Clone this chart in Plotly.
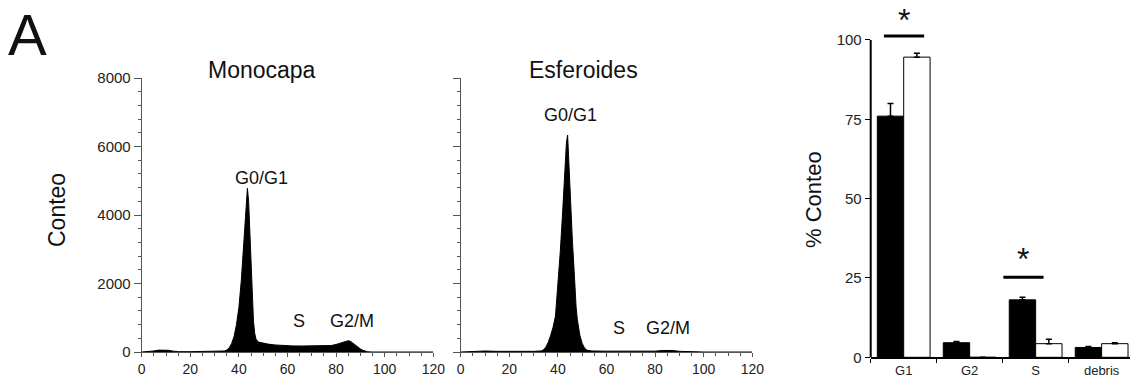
import plotly.graph_objects as go

# ---------------- data ----------------
# DNA content histogram, Monocapa
mono_x = [0, 3, 5, 7, 9, 11, 13, 15, 20, 25, 30, 33, 34, 35, 36, 37, 38, 39, 40, 41, 42,
          42.5, 43, 43.5, 44, 44.5, 45, 45.5, 46, 46.5, 47,
          48, 50, 52, 55, 58, 62, 66, 70, 75, 78, 80, 82, 84, 85, 86, 87, 88, 89, 90, 91, 92, 93, 95, 100, 120]
mono_y = [0, 5, 30, 55, 60, 50, 25, 10, 10, 10, 15, 20, 30, 60, 120, 250, 450, 800, 1300, 2100, 3200,
          3900, 4500, 4780, 4400, 3500, 2300, 1400, 900, 550, 380,
          290, 250, 230, 205, 190, 178, 175, 175, 178, 190, 220, 270, 325, 330, 310, 250, 190, 140, 90, 50, 20, 5, 0, 0, 0]

# DNA content histogram, Esferoides
esf_x = [0, 5, 8, 10, 15, 20, 25, 30, 33, 34, 35, 36, 37, 38, 39, 40, 41, 42,
         42.5, 43, 43.5, 44, 44.5, 45, 45.5, 46, 46.5, 47, 47.5, 48, 48.5, 49,
         50, 51, 52, 54, 60, 70, 80, 83, 85, 87, 90, 95, 100, 120]
esf_y = [0, 10, 30, 30, 20, 15, 15, 20, 30, 60, 140, 280, 480, 720, 1050, 1900, 2950, 4150,
         4750, 5600, 6100, 6335, 5500, 4350, 3650, 3200, 2600, 1850, 1300, 950, 700, 500,
         250, 110, 50, 30, 25, 20, 25, 45, 55, 45, 20, 5, 0, 0]

hist_xticks = [0, 20, 40, 60, 80, 100, 120]
hist_yticks = [0, 2000, 4000, 6000, 8000]

# phase labels on histograms
mono_labels = ["G0/G1", "S", "G2/M"]
mono_label_x = [49.5, 64.7, 86.4]
mono_label_y = [5080, 914, 914]
esf_labels = ["G0/G1", "S", "G2/M"]
esf_label_x = [45.0, 65.1, 85.3]
esf_label_y = [6920, 700, 700]

# bar chart: % Conteo
categories = ["G1", "G2", "S", "debris"]
mono_pct = [76.0, 4.6, 18.1, 3.1]
mono_err = [4.0, 0.4, 0.8, 0.3]
esf_pct = [94.6, 0.0, 4.3, 4.3]
esf_err = [1.2, 0.0, 1.4, 0.3]
bar_yticks = [0, 25, 50, 75, 100]

# significance marks (star = glyph centre)
sig_x0 = [-0.30, 1.51]
sig_x1 = [0.31, 2.12]
sig_y = [101.3, 25.2]
star_x = [0.0, 1.81]
star_y = [107.5, 32.2]

# ---------------- figure ----------------
FONT = "Liberation Sans, Arial, sans-serif"
W, H = 1130, 387


def px_x(p):
    return p / W


def px_y(p):
    return (H - p) / H


fig = go.Figure()

fig.add_trace(go.Scatter(x=mono_x, y=mono_y, mode="lines", fill="tozeroy",
                         line=dict(color="black", width=1), fillcolor="black",
                         xaxis="x", yaxis="y", showlegend=False, hoverinfo="skip"))
fig.add_trace(go.Scatter(x=esf_x, y=esf_y, mode="lines", fill="tozeroy",
                         line=dict(color="black", width=1), fillcolor="black",
                         xaxis="x2", yaxis="y2", showlegend=False, hoverinfo="skip"))

fig.add_trace(go.Bar(x=categories, y=mono_pct, xaxis="x3", yaxis="y3",
                     marker=dict(color="black", line=dict(color="black", width=1)),
                     error_y=dict(type="data", array=mono_err, arrayminus=[0] * 4, symmetric=False,
                                  color="black", thickness=1.5, width=3),
                     showlegend=False))
fig.add_trace(go.Bar(x=categories, y=esf_pct, xaxis="x3", yaxis="y3",
                     marker=dict(color="white", line=dict(color="black", width=1)),
                     error_y=dict(type="data", array=esf_err, arrayminus=[0] * 4, symmetric=False,
                                  color="black", thickness=1.5, width=3),
                     showlegend=False))

# significance lines
for x0, x1, y in zip(sig_x0, sig_x1, sig_y):
    fig.add_shape(type="line", xref="x3", yref="y3", x0=x0, x1=x1, y0=y, y1=y,
                  line=dict(color="black", width=3))

BAR_LEFT = 870.7
BAR_BASE = 357.3
BAR_TOP = 40.0
BAR_YMAX = 112.5
bar_px_per_unit = (BAR_BASE - BAR_TOP) / 100.0
bar_dom_top = max(BAR_BASE - BAR_YMAX * bar_px_per_unit, 0.0)

# y-axis line of bar chart drawn only up to 100
fig.add_shape(type="line", xref="paper", yref="paper",
              x0=px_x(BAR_LEFT), x1=px_x(BAR_LEFT), y0=px_y(BAR_BASE), y1=px_y(BAR_TOP),
              line=dict(color="black", width=2))

hist_y_dom = [px_y(352), px_y(78)]
axis_col = "#555"
tick_font = dict(family=FONT, size=14, color="#222")

common_hx = dict(range=[0, 120], tickvals=hist_xticks, ticks="outside", ticklen=4,
                 tickcolor=axis_col, showline=True, linecolor=axis_col, linewidth=1,
                 showgrid=False, zeroline=False, tickfont=tick_font, automargin=False,
                 minor=dict(dtick=5, ticks="outside", ticklen=3, tickcolor=axis_col))
common_hy = dict(range=[0, 8000], tickvals=hist_yticks, ticks="outside", ticklen=7,
                 tickcolor=axis_col, showline=True, linecolor=axis_col, linewidth=1,
                 showgrid=False, zeroline=False, automargin=False,
                 tickfont=dict(family=FONT, size=15, color="#222"),
                 minor=dict(dtick=400, ticks="outside", ticklen=3, tickcolor=axis_col))

fig.update_layout(
    template="none",
    width=W, height=H,
    margin=dict(l=0, r=0, t=0, b=0, pad=0),
    paper_bgcolor="white", plot_bgcolor="white",
    font=dict(family=FONT, color="#222"),
    barmode="group", bargap=0.2, bargroupgap=0.0,
    xaxis=dict(domain=[px_x(141.7), px_x(433.3)], anchor="y", **common_hx),
    yaxis=dict(domain=hist_y_dom, anchor="x", **common_hy),
    xaxis2=dict(domain=[px_x(460.7), px_x(752.3)], anchor="y2", **common_hx),
    yaxis2=dict(domain=hist_y_dom, anchor="x2", showticklabels=False, **common_hy),
    xaxis3=dict(domain=[px_x(BAR_LEFT), 1.0], anchor="y3", type="category",
                range=[-0.5, 3.43], tickson="boundaries", ticks="outside", ticklen=4,
                tickcolor="black", showline=True, linecolor="black", linewidth=2,
                showgrid=False, zeroline=False, automargin=False,
                tickfont=dict(family=FONT, size=13, color="#222")),
    yaxis3=dict(domain=[px_y(BAR_BASE), px_y(bar_dom_top)], anchor="x3", range=[0, BAR_YMAX],
                tickvals=bar_yticks, ticks="outside", ticklen=5, tickcolor="black",
                showline=False, showgrid=False, zeroline=False, automargin=False,
                tickfont=dict(family=FONT, size=15, color="#222")),
)


def ann(text, x, y, xref="paper", yref="paper", size=22, angle=0, xanchor="center",
        yanchor="middle", yshift=0):
    return dict(text=text, x=x, y=y, xref=xref, yref=yref, showarrow=False,
                xanchor=xanchor, yanchor=yanchor, textangle=angle, yshift=yshift,
                font=dict(family=FONT, size=size, color="#111"))


annotations = [
    ann("A", px_x(6), 1.0, size=58, xanchor="left", yanchor="top"),
    ann("Monocapa", px_x(262), px_y(70), size=23),
    ann("Esferoides", px_x(583), px_y(70), size=23),
    ann("Conteo", px_x(57), px_y(210), size=23, angle=-90),
    ann("% Conteo", px_x(814), px_y(200), size=22, angle=-90),
]
for t, x, y in zip(mono_labels, mono_label_x, mono_label_y):
    annotations.append(ann(t, x, y, xref="x", yref="y", size=18))
for t, x, y in zip(esf_labels, esf_label_x, esf_label_y):
    annotations.append(ann(t, x, y, xref="x2", yref="y2", size=18))
# star glyph sits high in its text box: anchor the box top and lift it so the glyph centre lands on y
for x, y in zip(star_x, star_y):
    annotations.append(ann("*", x, y, xref="x3", yref="y3", size=32, yanchor="top", yshift=16))

fig.update_layout(annotations=annotations)

# the page body has a default 8px margin; remove it so the figure fills the window
fig.write_html("out.html", config={"displayModeBar": False},
               post_script="document.body.style.margin='0';")
